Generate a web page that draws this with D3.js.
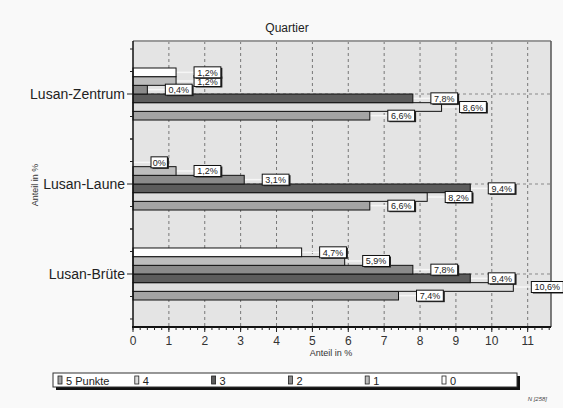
<!DOCTYPE html>
<html>
<head>
<meta charset="utf-8">
<script src="https://cdn.jsdelivr.net/npm/d3@7"></script>
<style>
  body { margin: 0; background: #f9f9f9; }
  svg { display: block; font-family: "Liberation Sans", Arial, sans-serif; }
</style>
</head>
<body>
<script>
var width = 563;
var height = 408;

// data
var categories = ["Lusan-Zentrum", "Lusan-Laune", "Lusan-Brüte"];
var seriesNames = ["5 Punkte", "4", "3", "2", "1", "0"];
var v5 = [6.6, 6.6, 7.4];
var v4 = [8.6, 8.2, 10.6];
var v3 = [7.8, 9.4, 9.4];
var v2 = [0.4, 3.1, 7.8];
var v1 = [1.2, 1.2, 5.9];
var v0 = [1.2, 0, 4.7];
var xTicks = [0, 1, 2, 3, 4, 5, 6, 7, 8, 9, 10, 11];

var seriesValues = [v5, v4, v3, v2, v1, v0];
var colors = ["#a4a4a4", "#dedede", "#5c5c5c", "#8a8a8a", "#bdbdbd", "#ffffff"];

var plot = {left: 133, right: 551, top: 41, bottom: 327};

var svg = d3.select("body").append("svg")
  .attr("width", width)
  .attr("height", height);

var x = d3.scaleLinear().domain([0, 11.65]).range([plot.left, plot.right]);
var y = d3.scaleBand().domain(categories)
  .range([plot.top, plot.bottom])
  .paddingInner(0.422).paddingOuter(0.3);
// bars inside a group, top to bottom: 0,1,2,3,4,5 Punkte
var yInner = d3.scaleBand().domain(seriesNames.slice().reverse())
  .range([0, y.bandwidth()]);

function fmt(v) { return String(v).replace(".", ",") + "%"; }

// plot background
svg.append("rect")
  .attr("x", plot.left).attr("y", plot.top)
  .attr("width", plot.right - plot.left).attr("height", plot.bottom - plot.top)
  .attr("fill", "#e4e4e4");

// grid
svg.append("g").selectAll("line").data(xTicks.slice(1))
  .join("line")
  .attr("x1", d => x(d)).attr("x2", d => x(d))
  .attr("y1", plot.top).attr("y2", plot.bottom)
  .attr("stroke", "#777").attr("stroke-dasharray", "3,3");

svg.append("g").selectAll("line").data(categories)
  .join("line")
  .attr("x1", plot.left).attr("x2", plot.right)
  .attr("y1", d => y(d) + y.bandwidth() / 2).attr("y2", d => y(d) + y.bandwidth() / 2)
  .attr("stroke", "#888").attr("stroke-dasharray", "3,3");

// borders
svg.append("line").attr("x1", plot.left).attr("x2", plot.right)
  .attr("y1", plot.top).attr("y2", plot.top)
  .attr("stroke", "#9a9a9a").attr("stroke-width", 2);
svg.append("line").attr("x1", plot.right).attr("x2", plot.right)
  .attr("y1", plot.top).attr("y2", plot.bottom)
  .attr("stroke", "#555").attr("stroke-width", 1.5);

// flatten data
var bars = [];
categories.forEach(function(c, ci) {
  seriesNames.forEach(function(s, si) {
    bars.push({cat: c, series: s, value: seriesValues[si][ci], color: colors[si]});
  });
});

// leader lines
svg.append("g").selectAll("line").data(bars)
  .join("line")
  .attr("x1", d => x(d.value)).attr("x2", d => x(d.value) + 18)
  .attr("y1", d => y(d.cat) + yInner(d.series) + yInner.bandwidth() / 2)
  .attr("y2", d => y(d.cat) + yInner(d.series) + yInner.bandwidth() / 2)
  .attr("stroke", "#f6f6f6").attr("stroke-width", 1.5);

// bars
svg.append("g").selectAll("rect").data(bars)
  .join("rect")
  .attr("x", x(0))
  .attr("y", d => y(d.cat) + yInner(d.series))
  .attr("width", d => x(d.value) - x(0))
  .attr("height", yInner.bandwidth())
  .attr("fill", d => d.color)
  .attr("stroke", "#111").attr("stroke-width", 1);

// value labels
var lab = svg.append("g").selectAll("g").data(bars)
  .join("g")
  .attr("transform", d => "translate(" + (x(d.value) + 18) + "," + (y(d.cat) + yInner(d.series) + yInner.bandwidth() / 2) + ")");

lab.each(function(d) {
  var g = d3.select(this);
  var t = fmt(d.value);
  var w = t.length * 5.2 + 6;
  g.append("rect").attr("x", 1.5).attr("y", -4.5).attr("width", w).attr("height", 11)
    .attr("fill", "#222");
  g.append("rect").attr("x", 0).attr("y", -5.5).attr("width", w).attr("height", 11)
    .attr("fill", "#fff").attr("stroke", "#111").attr("stroke-width", 1);
  g.append("text").attr("x", w / 2).attr("y", 3.5)
    .attr("text-anchor", "middle").attr("font-size", 9).attr("fill", "#222")
    .text(t);
});

// x axis
var xAxis = svg.append("g").attr("transform", "translate(0," + plot.bottom + ")");
xAxis.append("line").attr("x1", plot.left - 1).attr("x2", plot.right)
  .attr("stroke", "#111").attr("stroke-width", 2);
xAxis.selectAll(".minor").data(d3.range(0, 11.61, 0.2))
  .join("line").attr("class", "minor")
  .attr("x1", d => x(d)).attr("x2", d => x(d))
  .attr("y1", 0).attr("y2", 3).attr("stroke", "#222");
xAxis.selectAll(".major").data(xTicks)
  .join("line").attr("class", "major")
  .attr("x1", d => x(d)).attr("x2", d => x(d))
  .attr("y1", 0).attr("y2", 5).attr("stroke", "#222");
xAxis.selectAll("text").data(xTicks)
  .join("text")
  .attr("x", d => x(d)).attr("y", 18)
  .attr("text-anchor", "middle").attr("font-size", 12).attr("fill", "#333")
  .text(d => d);

svg.append("text").attr("x", 331).attr("y", 356)
  .attr("text-anchor", "middle").attr("font-size", 9).attr("fill", "#333")
  .text("Anteil in %");

// y axis
var yAxis = svg.append("g");
yAxis.append("line").attr("x1", plot.left).attr("x2", plot.left)
  .attr("y1", plot.top).attr("y2", plot.bottom + 1)
  .attr("stroke", "#111").attr("stroke-width", 1.5);
var step = y.step();
var minorY = [];
categories.forEach(function(c) {
  var cy = y(c) + y.bandwidth() / 2;
  [-2, -1, 1, 2].forEach(function(k) { minorY.push(cy + k * step / 4); });
});
yAxis.selectAll(".minor").data(minorY)
  .join("line").attr("class", "minor")
  .attr("x1", plot.left - 3).attr("x2", plot.left)
  .attr("y1", d => d).attr("y2", d => d).attr("stroke", "#222");
yAxis.selectAll(".major").data(categories)
  .join("line").attr("class", "major")
  .attr("x1", plot.left - 6).attr("x2", plot.left)
  .attr("y1", d => y(d) + y.bandwidth() / 2).attr("y2", d => y(d) + y.bandwidth() / 2)
  .attr("stroke", "#222");
yAxis.selectAll("text").data(categories)
  .join("text")
  .attr("x", plot.left - 8).attr("y", d => y(d) + y.bandwidth() / 2 + 5)
  .attr("text-anchor", "end").attr("font-size", 14).attr("fill", "#222")
  .text(d => d);

svg.append("text")
  .attr("transform", "translate(38,185) rotate(-90)")
  .attr("text-anchor", "middle").attr("font-size", 9).attr("fill", "#333")
  .text("Anteil in %");

// title
svg.append("text").attr("x", 287).attr("y", 32)
  .attr("text-anchor", "middle").attr("font-size", 12).attr("fill", "#222")
  .text("Quartier");

// legend
var leg = svg.append("g");
leg.append("rect").attr("x", 56).attr("y", 376).attr("width", 464).attr("height", 14).attr("fill", "#111");
leg.append("rect").attr("x", 53).attr("y", 373).attr("width", 464).attr("height", 14)
  .attr("fill", "#fff").attr("stroke", "#333");
var items = leg.selectAll("g").data(seriesNames)
  .join("g")
  .attr("transform", (d, i) => "translate(" + (58 + i * 76.8) + ",376)");
items.append("rect").attr("x", 0).attr("y", 0).attr("width", 4).attr("height", 8)
  .attr("fill", (d, i) => colors[i]).attr("stroke", "#222").attr("stroke-width", 0.8);
items.append("text").attr("x", 8).attr("y", 8.5)
  .attr("font-size", 11).attr("fill", "#222")
  .text(d => d);

svg.append("text").attr("x", 547).attr("y", 401)
  .attr("text-anchor", "end").attr("font-size", 6).attr("font-style", "italic").attr("fill", "#444")
  .text("N [258]");
</script>
</body>
</html>
